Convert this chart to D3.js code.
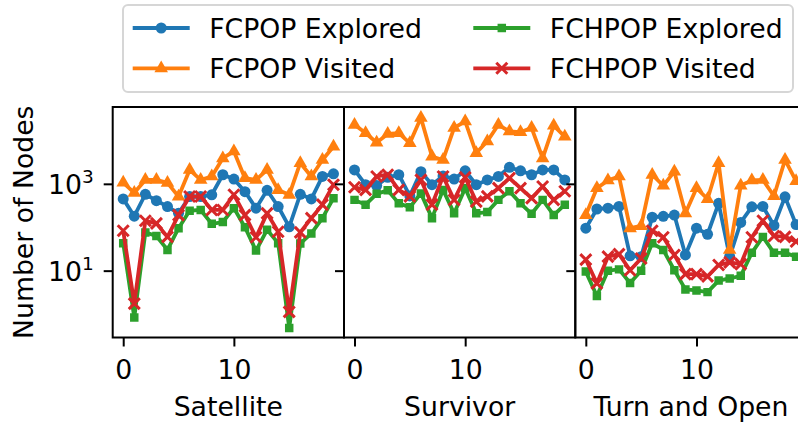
<!DOCTYPE html>
<html>
<head>
<meta charset="utf-8">
<script src="https://cdn.jsdelivr.net/npm/d3@7"></script>
<style>
body{margin:0;background:#fff;}
svg{display:block;font-family:"DejaVu Sans",sans-serif;}
</style>
</head>
<body>
<svg id="chart" width="798" height="424"></svg>
<script>
// ---------- data ----------
const runs=[0,1,2,3,4,5,6,7,8,9,10,11,12,13,14,15,16,17,18,19];
const panelNames=["Satellite","Survivor","Turn and Open"];
const seriesNames=["FCPOP Explored","FCPOP Visited","FCHPOP Explored","FCHPOP Visited"];
const xTicks=[0,10];
const yTicks=[10,1000];

const satelliteFcpopExplored=[450,180,575,410,300,210,510,510,560,1620,1290,660,275,710,300,102,575,450,1480,1700];
const satelliteFcpopVisited=[1070,620,1230,1230,1050,510,2090,1230,1480,3890,5620,1350,1230,2090,720,560,3020,1480,3550,7240];
const satelliteFchpopExplored=[43,0.83,76,63,30,95,240,250,120,132,275,100,29,87,43,0.48,42,72,162,468];
const satelliteFchpopVisited=[83,1.74,141,123,60,190,510,510,250,250,560,190,59,209,79,1.12,76,162,331,955];

const survivorFcpopExplored=[2090,955,912,1410,1620,525,1910,955,1510,1290,2000,955,1230,1480,2400,2000,1620,2090,2090,1230];
const survivorFcpopVisited=[22900,14800,8900,14100,14800,8700,33100,4270,3550,19500,27500,5130,9550,22900,16200,15500,19500,3890,21900,12300];
const survivorFchpopExplored=[427,331,589,708,355,288,603,162,724,209,794,209,224,427,676,355,204,427,191,331];
const survivorFchpopVisited=[832,724,1480,1620,724,513,1230,331,1480,427,1410,389,513,794,1350,794,468,871,427,676];

const turnOpenFcpopExplored=[95,263,275,302,22,21,170,178,191,23,95,69,355,21,129,295,302,110,501,115];
const turnOpenFcpopVisited=[191,794,1200,1480,95,107,1620,912,1910,209,794,447,3020,30,912,1200,1230,525,3550,1150];
const turnOpenFchpopExplored=[9.5,2.6,10,10.7,5.2,10,43,30,10.2,3.7,3.5,3.2,5.9,6.6,7.6,25.7,60,25.7,25.7,21];
const turnOpenFchpopVisited=[18,5.1,21,24,10.2,19,83,59,23,8.3,8.3,7.4,13.5,15.5,14.1,59,141,63,60,47];

const panelSeries=[
    [satelliteFcpopExplored,satelliteFcpopVisited,satelliteFchpopExplored,satelliteFchpopVisited],
    [survivorFcpopExplored,survivorFcpopVisited,survivorFchpopExplored,survivorFchpopVisited],
    [turnOpenFcpopExplored,turnOpenFcpopVisited,turnOpenFchpopExplored,turnOpenFchpopVisited]
];

// ---------- style ----------
const COLORS=["#1f77b4","#ff7f0e","#2ca02c","#d62728"];
const MARKERS=["circle","triangle","square","x"];
const FONT=26.7;
const LINE_W=3.8;
const PANEL_X0=112.7;
const PANEL_W=231.3;
const PANEL_TOP=107;
const PANEL_BOTTOM=337.5;

const svg=d3.select("#chart");

const x=d3.scaleLinear()
    .domain([-0.95,19.95])
    .range([0,PANEL_W]);
const y=d3.scaleLog()
    .domain([Math.pow(10,-0.54),Math.pow(10,4.77)])
    .range([PANEL_BOTTOM,PANEL_TOP]);

function markerPath(kind){
    if(kind==="circle") return d3.symbol(d3.symbolCircle,95)();
    if(kind==="triangle") return d3.symbol(d3.symbolTriangle,80)();
    if(kind==="square") return d3.symbol(d3.symbolSquare,72)();
    return "M-5.5,-5.5L5.5,5.5M-5.5,5.5L5.5,-5.5";
}

function drawMarker(g,kind,color,cx,cy){
    const p=g.append("path")
        .attr("d",markerPath(kind))
        .attr("transform",`translate(${cx},${cy})`);
    if(kind==="x"){
        p.attr("fill","none").attr("stroke",color).attr("stroke-width",3);
    }else{
        p.attr("fill",color);
    }
}

const line=d3.line()
    .x((d,i)=>x(runs[i]))
    .y(d=>y(d));

// ---------- panels ----------
panelSeries.forEach((series,p)=>{
    const left=PANEL_X0+p*PANEL_W;
    const g=svg.append("g").attr("transform",`translate(${left},0)`);

    svg.append("clipPath")
        .attr("id","clip"+p)
        .append("rect")
        .attr("x",0)
        .attr("y",PANEL_TOP)
        .attr("width",PANEL_W)
        .attr("height",PANEL_BOTTOM-PANEL_TOP);

    const data=g.append("g").attr("clip-path",`url(#clip${p})`);
    series.forEach((values,s)=>{
        data.append("path")
            .attr("d",line(values))
            .attr("fill","none")
            .attr("stroke",COLORS[s])
            .attr("stroke-width",LINE_W)
            .attr("stroke-linejoin","round");
        values.forEach((v,i)=>{
            drawMarker(data,MARKERS[s],COLORS[s],x(runs[i]),y(v));
        });
    });

    // x axis
    const xAxis=g.append("g")
        .attr("transform",`translate(0,${PANEL_BOTTOM})`)
        .call(d3.axisBottom(x).tickValues(xTicks).tickSize(9).tickPadding(13.5).tickFormat(d3.format("d")));
    xAxis.select(".domain").remove();
    xAxis.selectAll("line").attr("stroke","#000").attr("stroke-width",2);
    xAxis.selectAll("text").attr("font-size",FONT).attr("fill","#000").attr("font-family","DejaVu Sans");

    // y axis
    const yAxis=g.append("g")
        .call(d3.axisLeft(y).tickValues(yTicks).tickSize(9).tickFormat(""));
    yAxis.select(".domain").remove();
    yAxis.selectAll("line").attr("stroke","#000").attr("stroke-width",2);

    if(p===0){
        yTicks.forEach(t=>{
            const txt=g.append("text")
                .attr("x",-19)
                .attr("y",y(t)+10)
                .attr("text-anchor","end")
                .attr("font-size",FONT)
                .attr("fill","#000");
            txt.append("tspan").text("10");
            txt.append("tspan")
                .attr("font-size",18.5)
                .attr("dy",-10.5)
                .text(String(Math.round(Math.log10(t))));
        });
    }

    // spines
    g.append("rect")
        .attr("x",0)
        .attr("y",PANEL_TOP)
        .attr("width",PANEL_W)
        .attr("height",PANEL_BOTTOM-PANEL_TOP)
        .attr("fill","none")
        .attr("stroke","#000")
        .attr("stroke-width",2);

    g.append("text")
        .attr("x",PANEL_W/2)
        .attr("y",416)
        .attr("text-anchor","middle")
        .attr("font-size",FONT)
        .attr("fill","#000")
        .text(panelNames[p]);
});

// ---------- y label ----------
svg.append("text")
    .attr("transform",`translate(32.5,${(PANEL_TOP+PANEL_BOTTOM)/2}) rotate(-90)`)
    .attr("text-anchor","middle")
    .attr("font-size",FONT)
    .attr("fill","#000")
    .text("Number of Nodes");

// ---------- legend ----------
const legend=svg.append("g");
legend.append("rect")
    .attr("x",123)
    .attr("y",5)
    .attr("width",670)
    .attr("height",87)
    .attr("rx",5)
    .attr("fill","#fff")
    .attr("stroke","#d6d6d6")
    .attr("stroke-width",2);

const legendCols=[132.7,473.3];
const legendRows=[28,68.3];
seriesNames.forEach((name,s)=>{
    const cx=legendCols[Math.floor(s/2)];
    const cy=legendRows[s%2];
    legend.append("line")
        .attr("x1",cx)
        .attr("x2",cx+57)
        .attr("y1",cy)
        .attr("y2",cy)
        .attr("stroke",COLORS[s])
        .attr("stroke-width",LINE_W);
    drawMarker(legend,MARKERS[s],COLORS[s],cx+28.5,cy);
    legend.append("text")
        .attr("x",cx+76.5)
        .attr("y",cy+9.7)
        .attr("font-size",FONT)
        .attr("fill","#000")
        .text(name);
});
</script>
</body>
</html>
